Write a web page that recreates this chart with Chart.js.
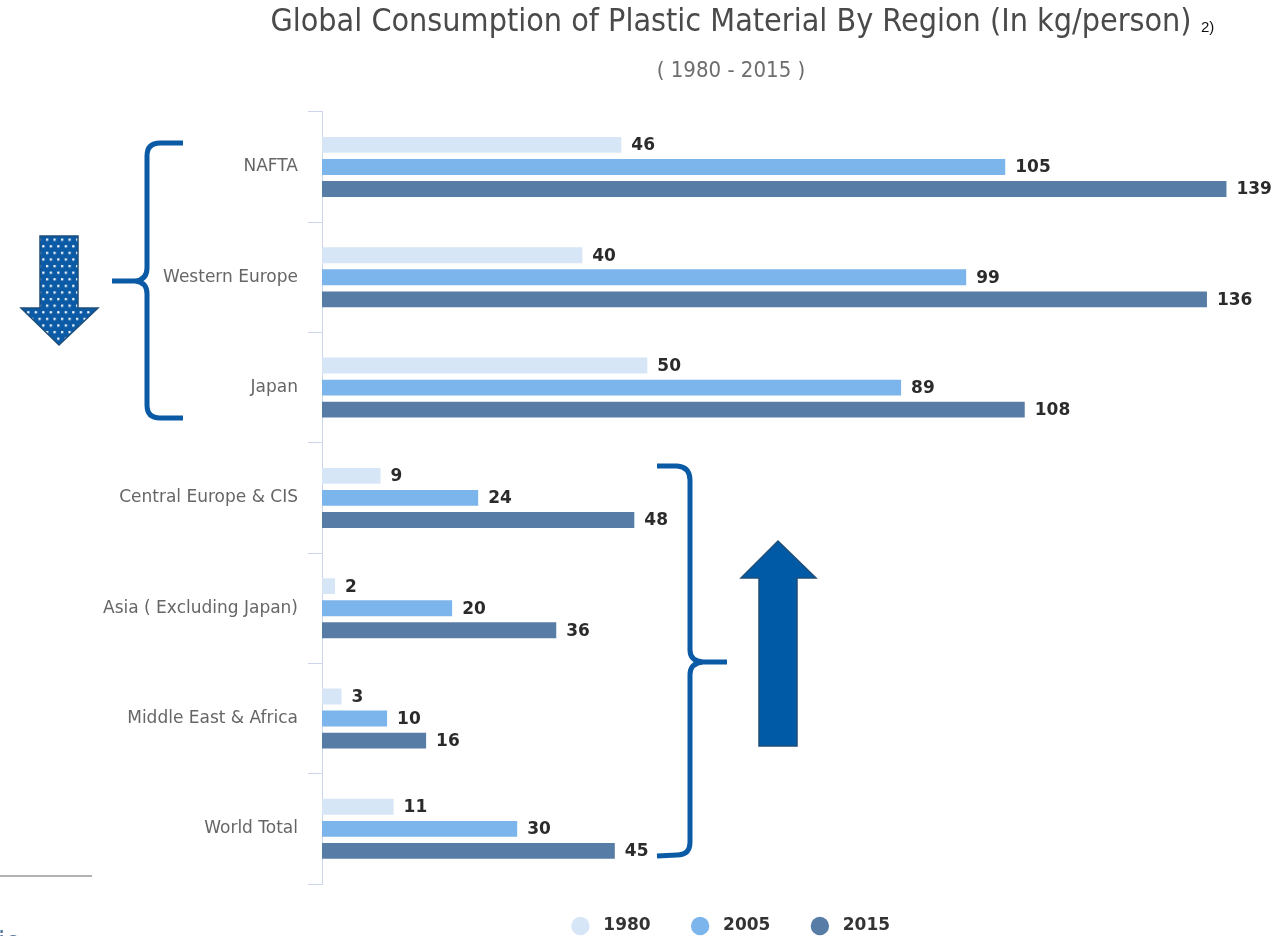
<!DOCTYPE html>
<html>
<head>
<meta charset="utf-8">
<title>Global Consumption of Plastic Material By Region</title>
<script src="https://cdn.jsdelivr.net/npm/chart.js"></script>
<style>
  body { margin: 0; background: #fff; }
  #wrap { position: relative; width: 1272px; height: 936px; overflow: hidden; }
  #chart { position: absolute; left: 0; top: 0; }
  #marks { position: absolute; left: 0; top: 0; pointer-events: none; }
</style>
</head>
<body>
<div id="wrap">
  <canvas id="chart" width="1272" height="936"></canvas>
  <!-- brackets and trend arrows -->
  <svg id="marks" width="1272" height="936" xmlns="http://www.w3.org/2000/svg">
    <defs>
      <pattern id="dots" width="7.5" height="13.2" patternUnits="userSpaceOnUse">
        <rect width="7.5" height="13.2" fill="#0b5aa6"/>
        <rect x="1" y="1" width="2.2" height="2.2" fill="#fff"/>
        <rect x="4.75" y="7.6" width="2.2" height="2.2" fill="#fff"/>
      </pattern>
    </defs>
    <text x="1201" y="32" font-family="Liberation Sans, Arial, sans-serif" font-size="15" fill="#111">2)</text>
    <path d="M 183 143 L 160 143 Q 147 143 147 156 L 147 268 Q 147 280 135 281 L 112 281 M 135 281 Q 147 282 147 294 L 147 405 Q 147 418 160 418 L 183 418"
          fill="none" stroke="#0b5aa6" stroke-width="5"/>
    <path d="M 657 466 L 677 466 Q 690 467 690 480 L 690 650 Q 690 661 703 662 L 727 662 M 703 662 Q 690 663 690 675 L 690 842 Q 690 855 677 855 L 657 856"
          fill="none" stroke="#0b5aa6" stroke-width="5"/>
    <polygon points="40,236 78,236 78,308 98,308 59,345 21,308 40,308" fill="url(#dots)" stroke="#1f4e79" stroke-width="1.5"/>
    <polygon points="778,541 816,578 797,578 797,746 759,746 759,578 741,578" fill="#005aa5" stroke="#1f4e79" stroke-width="1.5"/>
    <line x1="0" y1="876" x2="92" y2="876" stroke="#9a9a9a" stroke-width="1.5"/>
    <text x="-2" y="950" font-family="DejaVu Sans, sans-serif" font-size="26" fill="#52739b">io</text>
  </svg>
</div>
<script>
// kg of plastic per person, by region
var regions = ['NAFTA', 'Western Europe', 'Japan', 'Central Europe & CIS',
               'Asia ( Excluding Japan)', 'Middle East & Africa', 'World Total'];
var years = ['1980', '2005', '2015'];
var values1980 = [46, 40, 50, 9, 2, 3, 11];
var values2005 = [105, 99, 89, 24, 20, 10, 30];
var values2015 = [139, 136, 108, 48, 36, 16, 45];
var colors = ['#d7e6f7', '#7cb5ec', '#577ca5'];

// value printed at the end of each bar
var barValues = {
  id: 'barValues',
  afterDatasetsDraw: function(chart) {
    var ctx = chart.ctx;
    ctx.save();
    ctx.font = 'bold 17px "DejaVu Sans", sans-serif';
    ctx.fillStyle = '#2b2b2b';
    ctx.textAlign = 'left';
    ctx.textBaseline = 'middle';
    chart.data.datasets.forEach(function(ds, i) {
      chart.getDatasetMeta(i).data.forEach(function(bar, j) {
        ctx.fillText(ds.data[j], bar.x + 10, bar.y + 1);
      });
    });
    ctx.restore();
  }
};

// the left padding keeps the titles centred over the plot; let the
// region names spill into it instead of being clipped at the axis box,
// and pull the legend row up closer to the last bars
var tweakLayout = {
  id: 'tweakLayout',
  afterLayout: function(chart) {
    chart.scales.y.left = 0;
    var lg = chart.legend;
    lg.top -= 7.5; lg.bottom -= 7.5;
  }
};

var ctx = document.getElementById('chart').getContext('2d');
new Chart(ctx, {
  type: 'bar',
  data: {
    labels: regions,
    datasets: [
      { label: years[0], data: values1980, backgroundColor: colors[0] },
      { label: years[1], data: values2005, backgroundColor: colors[1] },
      { label: years[2], data: values2015, backgroundColor: colors[2] }
    ]
  },
  options: {
    indexAxis: 'y',
    responsive: false,
    animation: false,
    datasets: {
      bar: { categoryPercentage: 0.6, barPercentage: 0.72, borderWidth: 0 }
    },
    layout: { padding: { left: 190, right: 0, top: 0, bottom: -16 } },
    scales: {
      x: { display: false, min: 0, max: 146 },
      y: {
        afterFit: function(scale) { scale.width = 132; },
        border: { color: '#ccd6eb', width: 1 },
        grid: { color: '#ccd6eb', drawOnChartArea: false, tickLength: 14 },
        ticks: {
          padding: 10,
          color: '#666',
          font: { family: '"DejaVu Sans", sans-serif', size: 17 }
        }
      }
    },
    plugins: {
      title: {
        display: true,
        text: 'Global Consumption of Plastic Material By Region (In kg/person)',
        color: '#4a4a4a',
        font: { family: '"DejaVu Sans Condensed", "Liberation Sans Narrow", sans-serif', size: 32, weight: 'normal' },
        padding: { top: 3, bottom: 17 }
      },
      subtitle: {
        display: true,
        text: '( 1980 - 2015 )',
        color: '#6d6d6d',
        font: { family: '"DejaVu Sans Condensed", "Liberation Sans Narrow", sans-serif', size: 22 },
        padding: { top: 0, bottom: 27 }
      },
      legend: {
        position: 'bottom',
        labels: {
          usePointStyle: true,
          pointStyle: 'circle',
          boxHeight: 13,
          padding: 41,
          color: '#333',
          font: { family: '"DejaVu Sans", sans-serif', size: 17, weight: 'bold' },
          generateLabels: function(chart) {
            // a leading space opens the gap between dot and year
            var items = Chart.defaults.plugins.legend.labels.generateLabels(chart);
            items.forEach(function(it) { it.text = ' ' + it.text; });
            return items;
          }
        }
      },
      tooltip: { enabled: false }
    }
  },
  plugins: [barValues, tweakLayout]
});
</script>
</body>
</html>
